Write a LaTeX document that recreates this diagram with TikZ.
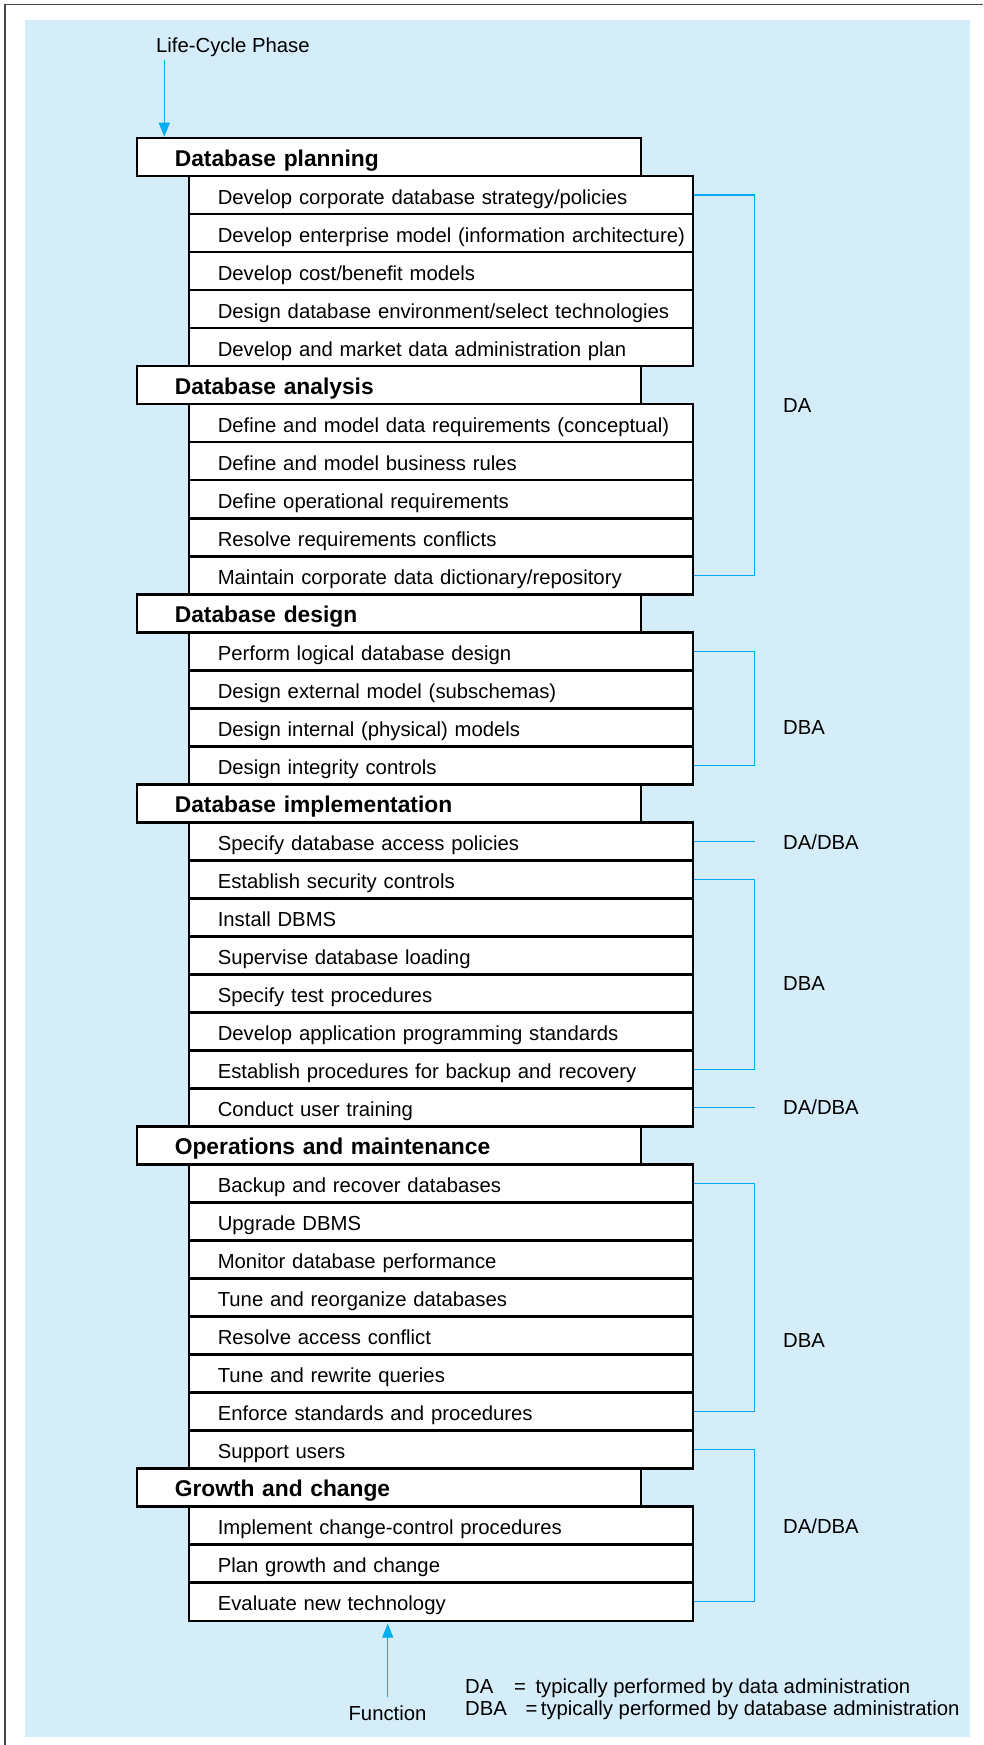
\documentclass[tikz,border=0pt]{standalone}
\usepackage{fontspec}
\setmainfont{Liberation Sans}
\usetikzlibrary{arrows.meta}
\definecolor{bgblue}{RGB}{213,236,249}
\definecolor{lcyan}{RGB}{0,174,239}
\definecolor{framegray}{RGB}{70,70,70}
\tikzset{
  rowbox/.style={anchor=north west, draw=black, line width=2.6pt, fill=white,
    minimum width=504pt, text width=504pt, minimum height=38.02pt,
    inner xsep=0pt, inner ysep=0pt, align=left, text height=18pt, text depth=0pt},
  phasebox/.style={rowbox, font=\fontsize{22.8pt}{27pt}\selectfont\bfseries},
  taskbox/.style={rowbox, font=\fontsize{20.3pt}{24pt}\selectfont},
  lab/.style={anchor=base west, inner sep=0pt, font=\fontsize{20.3pt}{24pt}\selectfont},
  conn/.style={draw=lcyan, line width=1.1pt},
  arr/.style={draw=lcyan, line width=1.1pt, -{Triangle[length=14pt,width=11pt]}, fill=lcyan}
}
\newcommand{\ph}[1]{\hspace*{38pt}#1}
\newcommand{\tk}[1]{\hspace*{29pt}#1}
\begin{document}
\begin{tikzpicture}[x=1pt,y=-1pt]
\useasboundingbox (0,0) rectangle (983,1745);
\fill[white] (0,0) rectangle (983,1745);
\fill[bgblue] (24.5,20) rectangle (970,1737);
\draw[framegray, line width=1.3pt] (5,1745) -- (5,4.3) -- (983,4.3);

\node[phasebox] (r0) at (135.5,{136.7+38.02*0}) {\ph{Database planning}};
\node[taskbox] (r1) at (187.5,{136.7+38.02*1}) {\tk{Develop corporate database strategy/policies}};
\node[taskbox] (r2) at (187.5,{136.7+38.02*2}) {\tk{Develop enterprise model (information architecture)}};
\node[taskbox] (r3) at (187.5,{136.7+38.02*3}) {\tk{Develop cost/benefit models}};
\node[taskbox] (r4) at (187.5,{136.7+38.02*4}) {\tk{Design database environment/select technologies}};
\node[taskbox] (r5) at (187.5,{136.7+38.02*5}) {\tk{Develop and market data administration plan}};
\node[phasebox] (r6) at (135.5,{136.7+38.02*6}) {\ph{Database analysis}};
\node[taskbox] (r7) at (187.5,{136.7+38.02*7}) {\tk{Define and model data requirements (conceptual)}};
\node[taskbox] (r8) at (187.5,{136.7+38.02*8}) {\tk{Define and model business rules}};
\node[taskbox] (r9) at (187.5,{136.7+38.02*9}) {\tk{Define operational requirements}};
\node[taskbox] (r10) at (187.5,{136.7+38.02*10}) {\tk{Resolve requirements conflicts}};
\node[taskbox] (r11) at (187.5,{136.7+38.02*11}) {\tk{Maintain corporate data dictionary/repository}};
\node[phasebox] (r12) at (135.5,{136.7+38.02*12}) {\ph{Database design}};
\node[taskbox] (r13) at (187.5,{136.7+38.02*13}) {\tk{Perform logical database design}};
\node[taskbox] (r14) at (187.5,{136.7+38.02*14}) {\tk{Design external model (subschemas)}};
\node[taskbox] (r15) at (187.5,{136.7+38.02*15}) {\tk{Design internal (physical) models}};
\node[taskbox] (r16) at (187.5,{136.7+38.02*16}) {\tk{Design integrity controls}};
\node[phasebox] (r17) at (135.5,{136.7+38.02*17}) {\ph{Database implementation}};
\node[taskbox] (r18) at (187.5,{136.7+38.02*18}) {\tk{Specify database access policies}};
\node[taskbox] (r19) at (187.5,{136.7+38.02*19}) {\tk{Establish security controls}};
\node[taskbox] (r20) at (187.5,{136.7+38.02*20}) {\tk{Install DBMS}};
\node[taskbox] (r21) at (187.5,{136.7+38.02*21}) {\tk{Supervise database loading}};
\node[taskbox] (r22) at (187.5,{136.7+38.02*22}) {\tk{Specify test procedures}};
\node[taskbox] (r23) at (187.5,{136.7+38.02*23}) {\tk{Develop application programming standards}};
\node[taskbox] (r24) at (187.5,{136.7+38.02*24}) {\tk{Establish procedures for backup and recovery}};
\node[taskbox] (r25) at (187.5,{136.7+38.02*25}) {\tk{Conduct user training}};
\node[phasebox] (r26) at (135.5,{136.7+38.02*26}) {\ph{Operations and maintenance}};
\node[taskbox] (r27) at (187.5,{136.7+38.02*27}) {\tk{Backup and recover databases}};
\node[taskbox] (r28) at (187.5,{136.7+38.02*28}) {\tk{Upgrade DBMS}};
\node[taskbox] (r29) at (187.5,{136.7+38.02*29}) {\tk{Monitor database performance}};
\node[taskbox] (r30) at (187.5,{136.7+38.02*30}) {\tk{Tune and reorganize databases}};
\node[taskbox] (r31) at (187.5,{136.7+38.02*31}) {\tk{Resolve access conflict}};
\node[taskbox] (r32) at (187.5,{136.7+38.02*32}) {\tk{Tune and rewrite queries}};
\node[taskbox] (r33) at (187.5,{136.7+38.02*33}) {\tk{Enforce standards and procedures}};
\node[taskbox] (r34) at (187.5,{136.7+38.02*34}) {\tk{Support users}};
\node[phasebox] (r35) at (135.5,{136.7+38.02*35}) {\ph{Growth and change}};
\node[taskbox] (r36) at (187.5,{136.7+38.02*36}) {\tk{Implement change-control procedures}};
\node[taskbox] (r37) at (187.5,{136.7+38.02*37}) {\tk{Plan growth and change}};
\node[taskbox] (r38) at (187.5,{136.7+38.02*38}) {\tk{Evaluate new technology}};

% brackets
\draw[conn] (r1.east) -- ++(60.8,0) |- (r11.east);
\draw[conn] (r13.east) -- ++(60.8,0) |- (r16.east);
\draw[conn] (r18.east) -- ++(60.8,0);
\draw[conn] (r19.east) -- ++(60.8,0) |- (r24.east);
\draw[conn] (r25.east) -- ++(60.8,0);
\draw[conn] (r27.east) -- ++(60.8,0) |- (r33.east);
\draw[conn] (r34.east) -- ++(60.8,0) |- (r38.east);

% role labels
\node[lab] (l1) at (783,412.3) {DA};
\node[lab] (l2) at (783,734.8) {DBA};
\node[lab] (l3) at (783,849) {DA/DBA};
\node[lab] (l4) at (783,990) {DBA};
\node[lab] (l5) at (783,1114.5) {DA/DBA};
\node[lab] (l6) at (783,1347) {DBA};
\node[lab] (l7) at (783,1533) {DA/DBA};

% top label and arrow
\node[lab] (lcp) at (156,52.3) {Life-Cycle Phase};
\coordinate (lcpa) at (164.3,60);
\draw[arr] (lcpa) -- (lcpa |- r0.north);

% bottom label and arrow
\node[lab, anchor=base] (fn) at (387.5,1720) {Function};
\coordinate (fna) at (387.7,1696.7);
\draw[arr, shorten >=1.5pt] (fna) -- (fna |- r38.south);

% legend
\node[lab] (lg1) at (465,1693.3) {DA\hspace*{20.8pt}=\hspace*{9.5pt}typically performed by data administration};
\node[lab] (lg2) at (465,1715) {DBA\hspace*{18.6pt}=\hspace*{3.5pt}typically performed by database administration};
\end{tikzpicture}
\end{document}
